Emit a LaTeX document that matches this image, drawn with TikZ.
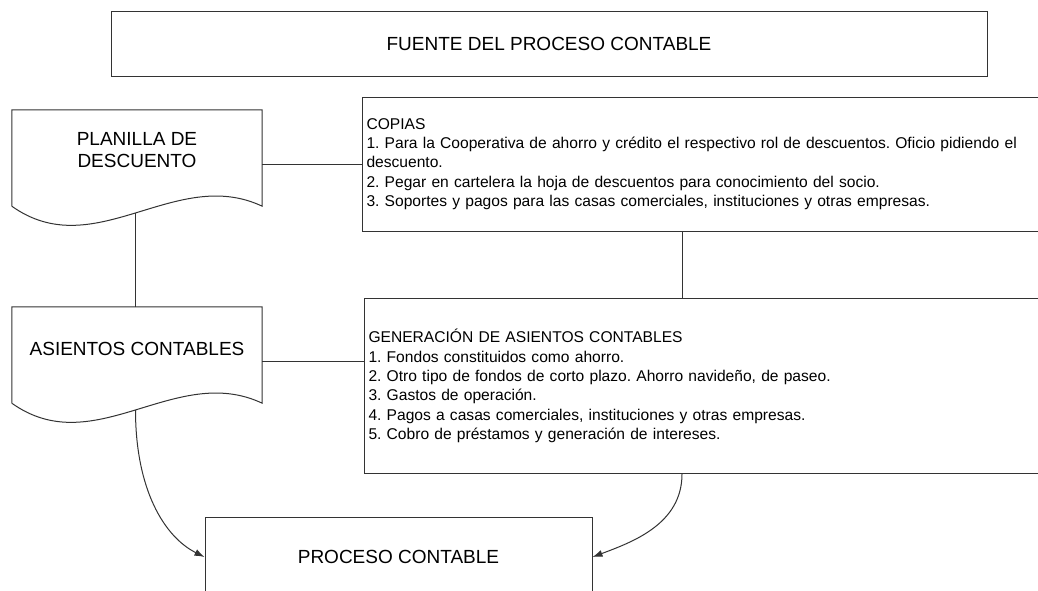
\documentclass[tikz,border=0pt]{standalone}
\usepackage{fontspec}
\setmainfont{Liberation Sans}
\usetikzlibrary{positioning,calc,arrows.meta}
\frenchspacing

\tikzset{
  box/.style={draw=black!80, line width=1pt, inner sep=0pt},
  titlebox/.style={box, font=\fontsize{19}{22}\selectfont, align=center},
  listbox/.style={box, anchor=west, font=\fontsize{15.6}{19.3}\selectfont, align=left, text width=680pt, inner xsep=4pt},
  doc/.style={minimum width=250pt, font=\fontsize{19}{22}\selectfont, align=center, inner sep=0pt},
  outline/.style={draw=black!80, line width=1pt},
  link/.style={draw=black!80, line width=1pt},
  flow/.style={link, -{Latex[length=10pt,width=7pt]}},
}

\begin{document}
\begin{tikzpicture}[x=1pt, y=-1pt]
\useasboundingbox (0,0) rectangle (1038,590);
\clip (0,0) rectangle (1038,590);
\fill[white] (0,0) rectangle (1038,590);

\node[titlebox, minimum width=876pt, minimum height=65pt] (fuente) at (549,43.5) {FUENTE DEL PROCESO CONTABLE};

% documentos
\node[doc, minimum height=80pt] (planilla) at (137,150) {PLANILLA DE\\DESCUENTO};
\draw[outline] ([yshift=-16pt]planilla.south west) -- (planilla.north west) -- (planilla.north east) -- ([yshift=-16pt]planilla.south east)
  .. controls +(-87,-41) and +(83,59) .. coordinate[pos=.5] (planilla-bot) ([yshift=-16pt]planilla.south west);

\node[doc, minimum height=84pt] (asientos) at (137,349) {ASIENTOS CONTABLES};
\draw[outline] ([yshift=-12pt]asientos.south west) -- (asientos.north west) -- (asientos.north east) -- ([yshift=-12pt]asientos.south east)
  .. controls +(-87,-41) and +(83,59) .. coordinate[pos=.5] (asientos-bot) ([yshift=-12pt]asientos.south west);

% cuadros de texto
\node[listbox, minimum height=134pt] (copias) at (362,164) {COPIAS\\
1. Para la Cooperativa de ahorro y crédito el respectivo rol de descuentos. Oficio pidiendo el\\
descuento.\\
2. Pegar en cartelera la hoja de descuentos para conocimiento del socio.\\
3. Soportes y pagos para las casas comerciales, instituciones y otras empresas.};

\node[listbox, minimum height=175pt] (generacion) at (364,386) {GENERACIÓN DE ASIENTOS CONTABLES\\
1. Fondos constituidos como ahorro.\\
2. Otro tipo de fondos de corto plazo. Ahorro navideño, de paseo.\\
3. Gastos de operación.\\
4. Pagos a casas comerciales, instituciones y otras empresas.\\
5. Cobro de préstamos y generación de intereses.};

\node[titlebox, minimum width=387pt, minimum height=80pt] (proceso) at (398.5,557) {PROCESO CONTABLE};

% conexiones
\draw[link] (planilla.east |- copias.west) -- (copias.west);
\draw[link] (planilla-bot) -- (planilla-bot |- asientos.north);
\draw[link] ([yshift=-12pt]asientos.east) -- ([yshift=-12pt]asientos.east -| generacion.west);
\coordinate (enlace) at ([xshift=320pt]copias.south west);
\draw[link] (enlace) -- (enlace |- generacion.north);
\draw[flow] (asientos-bot) .. controls +(0,80) and +(-40,-20) .. (proceso.west);
\coordinate (salida) at ([xshift=318pt]generacion.south west);
\draw[flow] (salida) .. controls +(0,50) and +(40,-15) .. (proceso.east);
\end{tikzpicture}
\end{document}
